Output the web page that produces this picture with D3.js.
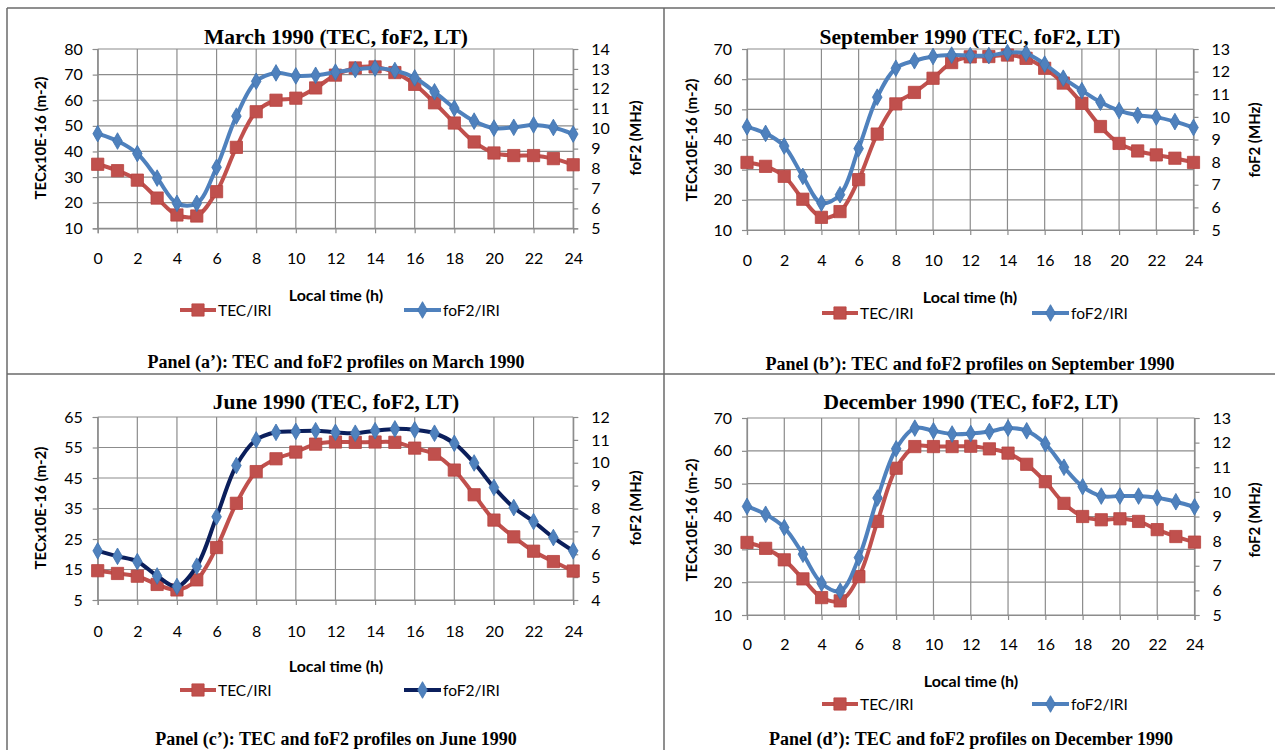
<!DOCTYPE html>
<html><head><meta charset="utf-8">
<script src="https://cdn.jsdelivr.net/npm/d3@7"></script>
<style>
body{margin:0;background:#fff;}
svg{display:block;}
</style></head>
<body>
<svg id="chart" width="1275" height="750"></svg>
<script>
// ---------- DATA ----------
const hours = [0,1,2,3,4,5,6,7,8,9,10,11,12,13,14,15,16,17,18,19,20,21,22,23,24];
const hourTicks = [0,2,4,6,8,10,12,14,16,18,20,22,24];

const tecMarch  = [35,32.5,28.8,21.8,15.2,14.8,24.3,41.6,55.5,60,60.8,64.8,69.8,72.6,73,70.8,66.2,59,51.1,43.7,39.4,38.4,38.4,37.2,34.8];
const fof2March = [9.75,9.38,8.75,7.52,6.25,6.25,8.06,10.63,12.38,12.8,12.65,12.68,12.84,12.97,13.04,12.92,12.55,11.85,11.03,10.38,10.03,10.07,10.19,10.06,9.73];

const tecSep  = [32.4,31.1,27.8,20.2,14.2,16.1,26.7,41.8,51.8,55.6,60.3,65.5,67.4,67.5,68,66.9,63.6,58.7,52,44.3,38.7,36.2,34.9,33.8,32.4];
const fof2Sep = [9.56,9.27,8.71,7.37,6.19,6.56,8.6,10.87,12.15,12.48,12.67,12.73,12.71,12.71,12.84,12.81,12.33,11.71,11.16,10.65,10.28,10.07,9.99,9.79,9.53];

const tecJun  = [14.6,13.7,12.8,10.1,8.3,11.6,22.2,36.7,47.1,51.3,53.5,56.1,56.8,56.7,56.8,56.7,54.8,52.8,47.6,39.5,31.2,25.7,21,17.6,14.5];
const fof2Jun = [6.15,5.91,5.68,5.05,4.59,5.48,7.64,9.88,11.0,11.33,11.37,11.4,11.33,11.29,11.4,11.48,11.44,11.29,10.85,9.99,8.92,8.04,7.43,6.73,6.15];

const tecDec  = [32.1,30.3,26.8,21,15.3,14.3,21.7,38.5,54.7,61.3,61.3,61.3,61.4,60.6,59.3,55.9,50.6,44,40,39,39.3,38.5,36,33.9,32.2];
const fof2Dec = [9.41,9.09,8.55,7.47,6.29,5.97,7.33,9.75,11.75,12.59,12.48,12.35,12.37,12.45,12.59,12.48,11.95,11.0,10.21,9.83,9.83,9.83,9.76,9.6,9.39];

const leftTicksA  = [10,20,30,40,50,60,70,80];
const rightTicksA = [5,6,7,8,9,10,11,12,13,14];
const leftTicksB  = [10,20,30,40,50,60,70];
const rightTicksB = [5,6,7,8,9,10,11,12,13];
const leftTicksC  = [5,15,25,35,45,55,65];
const rightTicksC = [4,5,6,7,8,9,10,11,12];
const leftTicksD  = [10,20,30,40,50,60,70];
const rightTicksD = [5,6,7,8,9,10,11,12,13];

const titles = ["March 1990 (TEC, foF2, LT)","September 1990 (TEC, foF2, LT)","June 1990 (TEC, foF2, LT)","December 1990 (TEC, foF2, LT)"];
const captions = ["Panel (a\u2019): TEC and foF2 profiles on March 1990","Panel (b\u2019): TEC and foF2 profiles on September 1990","Panel (c\u2019): TEC and foF2 profiles on June 1990","Panel (d\u2019): TEC and foF2 profiles on December 1990"];
const seriesNames = ["TEC/IRI","foF2/IRI"];
const leftTitle = "TECx10E-16 (m-2)";
const rightTitle = "foF2 (MHz)";
const xTitle = "Local time (h)";

// ---------- LAYOUT ----------
const panels = [
 {tec:tecMarch, fof:fof2March, lt:leftTicksA, rt:rightTicksA, title:titles[0], caption:captions[0],
  x0:97.7, x1:573.2, yT:49, yB:228.3, cx:336, titleY:37, xLabY:258, xTitY:294, legY:310, capY:362,
  lTitX:40, rTitX:635, yTitC:138, leg1:[180,216], leg2:[404,441], fofLine:"#4F81BD"},
 {tec:tecSep, fof:fof2Sep, lt:leftTicksB, rt:rightTicksB, title:titles[1], caption:captions[1],
  x0:747, x1:1193.5, yT:49, yB:230, cx:970, titleY:37, xLabY:259, xTitY:296, legY:313, capY:364,
  lTitX:691, rTitX:1254, yTitC:140, leg1:[822,858], leg2:[1032,1069], fofLine:"#4F81BD"},
 {tec:tecJun, fof:fof2Jun, lt:leftTicksC, rt:rightTicksC, title:titles[2], caption:captions[2],
  x0:97.7, x1:573.2, yT:417, yB:600, cx:336, titleY:402, xLabY:630, xTitY:665, legY:690, capY:739,
  lTitX:40, rTitX:635, yTitC:508, leg1:[180,216], leg2:[404,441], fofLine:"#0B1F5C"},
 {tec:tecDec, fof:fof2Dec, lt:leftTicksD, rt:rightTicksD, title:titles[3], caption:captions[3],
  x0:747, x1:1194.5, yT:418, yB:615, cx:971, titleY:402, xLabY:643, xTitY:680, legY:704, capY:739,
  lTitX:691, rTitX:1254, yTitC:520, leg1:[822,858], leg2:[1032,1069], fofLine:"#4F81BD"}
];

const RED="#C0504D", REDS="#B8423F", BLUE="#4F81BD", BLUES="#3F72AE", GRID="#8C8C8C";
const sansF = "Lato, 'Open Sans', sans-serif";
const serifF = "'Liberation Serif', 'Times New Roman', serif";

const svg = d3.select("#chart");

// table borders
const borders = svg.append("g").attr("stroke","#6a6a6a").attr("stroke-width",1.5);
[[7,8,1275,8],[7,8,7,750],[664,8,664,750],[7,374,1275,374]].forEach(l=>{
  borders.append("line").attr("x1",l[0]).attr("y1",l[1]).attr("x2",l[2]).attr("y2",l[3]);
});

const sqSym = d3.symbol().type(d3.symbolSquare).size(150);
const diSym = d3.symbol().type(d3.symbolDiamond).size(80);

panels.forEach(p=>{
  const g = svg.append("g");
  const x = d3.scaleLinear().domain([0,24]).range([p.x0,p.x1]);
  const yL = d3.scaleLinear().domain([p.lt[0], p.lt[p.lt.length-1]]).range([p.yB,p.yT]);
  const yR = d3.scaleLinear().domain([p.rt[0], p.rt[p.rt.length-1]]).range([p.yB,p.yT]);

  // horizontal grid
  g.append("g").selectAll("line").data(p.lt).join("line")
    .attr("x1",p.x0).attr("x2",p.x1).attr("y1",d=>yL(d)).attr("y2",d=>yL(d))
    .attr("stroke",GRID).attr("stroke-width",1.2);
  // vertical grid
  g.append("g").selectAll("line").data(hourTicks).join("line")
    .attr("x1",d=>x(d)).attr("x2",d=>x(d)).attr("y1",p.yT).attr("y2",p.yB)
    .attr("stroke",GRID).attr("stroke-width",1.2);

  // axes
  const axL = g.append("g").attr("transform",`translate(${p.x0},0)`)
    .call(d3.axisLeft(yL).tickValues(p.lt).tickSize(5).tickPadding(10).tickFormat(d3.format("d")));
  const axR = g.append("g").attr("transform",`translate(${p.x1},0)`)
    .call(d3.axisRight(yR).tickValues(p.rt).tickSize(5).tickPadding(13).tickFormat(d3.format("d")));
  const axB = g.append("g").attr("transform",`translate(0,${p.yB})`)
    .call(d3.axisBottom(x).tickValues(hourTicks).tickSize(5).tickPadding(0).tickFormat(d3.format("d")));
  [axL,axR,axB].forEach(a=>{
    a.select(".domain").attr("stroke",GRID).attr("stroke-width",1.2);
    a.selectAll(".tick line").attr("stroke",GRID).attr("stroke-width",1.2);
    a.selectAll(".tick text").attr("font-family",sansF).attr("font-size",16).attr("fill","#000");
  });
  axB.selectAll(".tick text").attr("dy",null).attr("y", p.xLabY - p.yB).attr("dominant-baseline","central");

  // titles
  g.append("text").attr("x",p.cx).attr("y",p.titleY).attr("text-anchor","middle").attr("dominant-baseline","central")
    .attr("font-family",serifF).attr("font-weight","bold").attr("font-size",21.5).text(p.title);
  g.append("text").attr("x",p.cx).attr("y",p.xTitY).attr("text-anchor","middle").attr("dominant-baseline","central")
    .attr("font-family",sansF).attr("font-weight","bold").attr("font-size",16).text(xTitle);
  g.append("text").attr("transform",`translate(${p.lTitX},${p.yTitC}) rotate(-90)`).attr("text-anchor","middle")
    .attr("dominant-baseline","central").attr("font-family",sansF).attr("font-weight","bold").attr("font-size",15).text(leftTitle);
  g.append("text").attr("transform",`translate(${p.rTitX},${p.yTitC}) rotate(-90)`).attr("text-anchor","middle")
    .attr("dominant-baseline","central").attr("font-family",sansF).attr("font-weight","bold").attr("font-size",15).text(rightTitle);
  g.append("text").attr("x",p.cx).attr("y",p.capY).attr("text-anchor","middle").attr("dominant-baseline","central")
    .attr("font-family",serifF).attr("font-weight","bold").attr("font-size",18).text(p.caption);

  const curve = d3.curveCatmullRom.alpha(0.5);
  // TEC series
  const lineL = d3.line().x((d,i)=>x(hours[i])).y(d=>yL(d)).curve(curve);
  g.append("path").datum(p.tec).attr("d",lineL).attr("fill","none").attr("stroke",RED).attr("stroke-width",4);
  g.append("g").selectAll("path").data(p.tec).join("path")
    .attr("transform",(d,i)=>`translate(${x(hours[i])},${yL(d)})`).attr("d",sqSym)
    .attr("fill",RED).attr("stroke",REDS).attr("stroke-width",0.8);
  // foF2 series
  const lineR = d3.line().x((d,i)=>x(hours[i])).y(d=>yR(d)).curve(curve);
  g.append("path").datum(p.fof).attr("d",lineR).attr("fill","none").attr("stroke",p.fofLine).attr("stroke-width",4);
  g.append("g").selectAll("path").data(p.fof).join("path")
    .attr("transform",(d,i)=>`translate(${x(hours[i])},${yR(d)})`).attr("d",diSym)
    .attr("fill",BLUE).attr("stroke",BLUES).attr("stroke-width",0.8);

  // legend
  const lg = g.append("g");
  lg.append("line").attr("x1",p.leg1[0]).attr("x2",p.leg1[1]).attr("y1",p.legY).attr("y2",p.legY).attr("stroke",RED).attr("stroke-width",4);
  lg.append("path").attr("transform",`translate(${(p.leg1[0]+p.leg1[1])/2},${p.legY})`).attr("d",sqSym).attr("fill",RED).attr("stroke",REDS).attr("stroke-width",0.8);
  lg.append("text").attr("x",p.leg1[1]+2).attr("y",p.legY).attr("dominant-baseline","central")
    .attr("font-family",sansF).attr("font-size",15.5).text(seriesNames[0]);
  lg.append("line").attr("x1",p.leg2[0]).attr("x2",p.leg2[1]).attr("y1",p.legY).attr("y2",p.legY).attr("stroke",p.fofLine).attr("stroke-width",4);
  lg.append("path").attr("transform",`translate(${(p.leg2[0]+p.leg2[1])/2},${p.legY})`).attr("d",diSym).attr("fill",BLUE).attr("stroke",BLUES).attr("stroke-width",0.8);
  lg.append("text").attr("x",p.leg2[1]+2).attr("y",p.legY).attr("dominant-baseline","central")
    .attr("font-family",sansF).attr("font-size",15.5).text(seriesNames[1]);
});
</script>
</body></html>
